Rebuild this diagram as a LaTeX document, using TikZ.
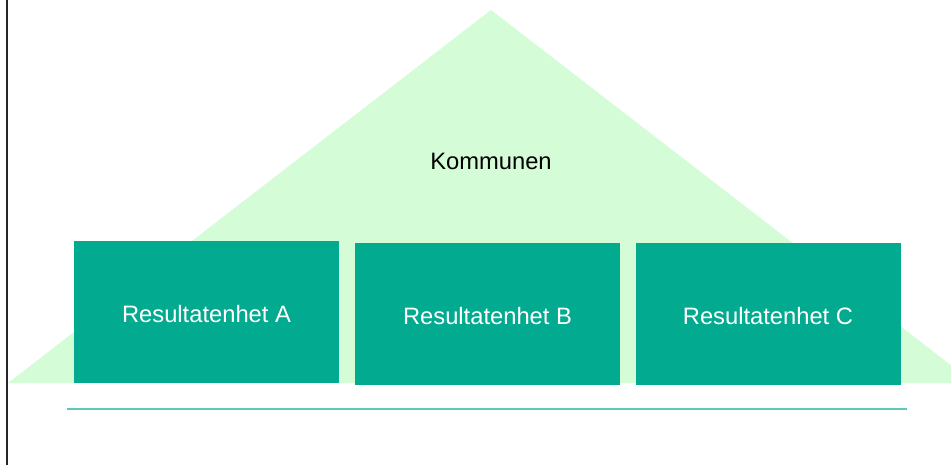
\documentclass[tikz,border=0pt]{standalone}
\usepackage{fontspec}
\setmainfont{Liberation Sans}
\definecolor{roof}{HTML}{D4FCD6}
\definecolor{unit}{HTML}{02AA8F}
\definecolor{groundteal}{HTML}{5CC8B6}
\begin{document}
\begin{tikzpicture}[x=0.75pt,y=-0.75pt,
  unitbox/.style={fill=unit,draw=none,text=white,font=\fontsize{17.8}{21}\selectfont},
  label/.style={font=\fontsize{17.8}{21}\selectfont,text=black}]
\useasboundingbox (0,0) rectangle (951,465);
% roof of the organisation, clipped at the right edge
\begin{scope}
  \clip (0,0) rectangle (951,465);
  \fill[roof] (491,10) -- (974,383) -- (8,383) -- cycle;
\end{scope}
\node[label] (kommun) at (491,161) {Kommunen};
% the three result units
\path[unitbox] (74,241) rectangle (338.5,382.5);
\node[unitbox,fill=none] (a) at (206.5,314) {Resultatenhet A};
\path[unitbox] (355,243) rectangle (619.5,384.5);
\node[unitbox,fill=none] (b) at (487.5,316) {Resultatenhet B};
\path[unitbox] (636,243) rectangle (900.5,384.5);
\node[unitbox,fill=none] (c) at (768,316) {Resultatenhet C};
% ground line
\coordinate (gl) at (67,409.3);
\coordinate (gr) at (906.5,409.3);
\draw[draw=groundteal,line width=1.5] (gl) -- (gr);
% left frame edge
\draw[black!85,line width=1.6] (7,0) -- (7,465);
\end{tikzpicture}
\end{document}
